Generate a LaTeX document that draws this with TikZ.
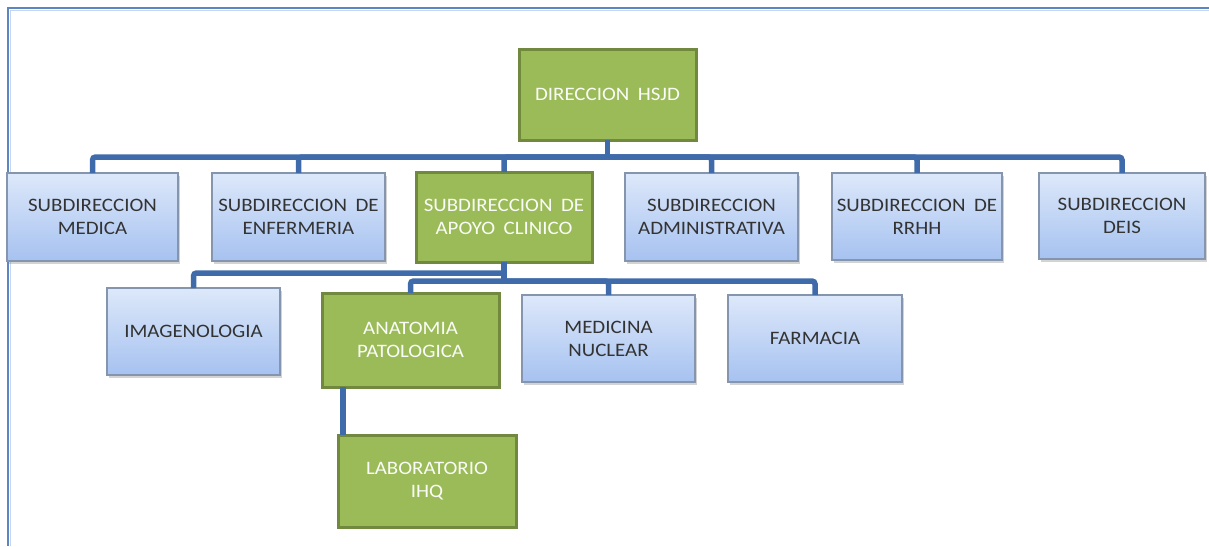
\documentclass[tikz,border=0pt]{standalone}
\usepackage{fontspec}
\setmainfont{Carlito}[FakeStretch=1.1]
\usetikzlibrary{shadows}
\definecolor{conncol}{HTML}{3F6BAA}
\definecolor{framecol}{HTML}{5B86C2}
\definecolor{gfill}{HTML}{9BBB59}
\definecolor{gdraw}{HTML}{71893F}
\definecolor{btop}{HTML}{DDE8FA}
\definecolor{bbot}{HTML}{A6C2F0}
\definecolor{bdraw}{HTML}{8595AE}
\definecolor{btext}{HTML}{333333}
\tikzset{
  box/.style={anchor=north west, inner sep=0pt, outer sep=0pt, align=center,
    font=\fontsize{19}{23}\selectfont},
  bluebox/.style={box, draw=bdraw, line width=1.3pt, top color=btop, bottom color=bbot,
    text=btext, drop shadow={shadow xshift=2pt, shadow yshift=-3pt, opacity=0.35}},
  greenbox/.style={box, draw=gdraw, line width=3pt, fill=gfill, text=white!95!gfill},
  conn/.style={draw=conncol, line width=5.5pt, rounded corners=3pt},
}
\newcommand{\wsp}{\hspace{0.45em}}
\begin{document}
\begin{tikzpicture}[x=1pt,y=-1pt]
\useasboundingbox (0,0) rectangle (1209,546);
% frame
\draw[framecol, line width=2.5pt] (8,546) -- (8,8) -- (1209,8);
\draw[framecol!35, line width=1pt] (10.5,546) -- (10.5,10.5) -- (1209,10.5);

% top
\node[greenbox, minimum width=177pt, minimum height=91pt] (dir) at (519,49) {DIRECCION\wsp HSJD};
% row 1
\node[bluebox, minimum width=171pt, minimum height=88pt] (med) at (7,173) {SUBDIRECCION\\MEDICA};
\node[bluebox, minimum width=173pt, minimum height=88pt] (enf) at (212,173) {SUBDIRECCION\wsp DE\\ENFERMERIA};
\node[greenbox, minimum width=176pt, minimum height=90pt] (apo) at (416,172) {SUBDIRECCION\wsp DE\\APOYO\wsp CLINICO};
\node[bluebox, minimum width=173pt, minimum height=88pt] (adm) at (625,173) {SUBDIRECCION\\ADMINISTRATIVA};
\node[bluebox, minimum width=170pt, minimum height=87pt] (rrh) at (832,173) {SUBDIRECCION\wsp DE\\RRHH};
\node[bluebox, minimum width=166pt, minimum height=86pt] (dei) at (1039,173) {SUBDIRECCION\\DEIS};
% row 2
\node[bluebox, minimum width=173pt, minimum height=87pt] (img) at (107,288) {IMAGENOLOGIA};
\node[greenbox, minimum width=177pt, minimum height=94pt] (ana) at (322,293) {ANATOMIA\\PATOLOGICA};
\node[bluebox, minimum width=173pt, minimum height=87pt] (mnu) at (522,295) {MEDICINA\\NUCLEAR};
\node[bluebox, minimum width=174pt, minimum height=87pt] (far) at (728,295) {FARMACIA};
% row 3
\node[greenbox, minimum width=178pt, minimum height=92pt] (lab) at (338,435) {LABORATORIO\\IHQ};

% connectors
\coordinate (b1) at (607.5,157);
\coordinate (b2a) at (504,273);
\coordinate (b2b) at (504,281);
\coordinate (lx) at (343,0);
\draw[conn] (dir.south) -- (b1);
\draw[conn] (b1) -| (med.north);
\draw[conn] (b1) -| (enf.north);
\draw[conn] (b1) -| (apo.north);
\draw[conn] (b1) -| (adm.north);
\draw[conn] (b1) -| (rrh.north);
\draw[conn] (b1) -| (dei.north);
\draw[conn] (apo.south) -- (b2b);
\draw[conn] (b2a) -| (img.north);
\draw[conn] (b2b) -| (ana.north);
\draw[conn] (b2b) -| (mnu.north);
\draw[conn] (b2b) -| (far.north);
\draw[conn] (ana.south -| lx) -- (lab.north -| lx);
\end{tikzpicture}
\end{document}
